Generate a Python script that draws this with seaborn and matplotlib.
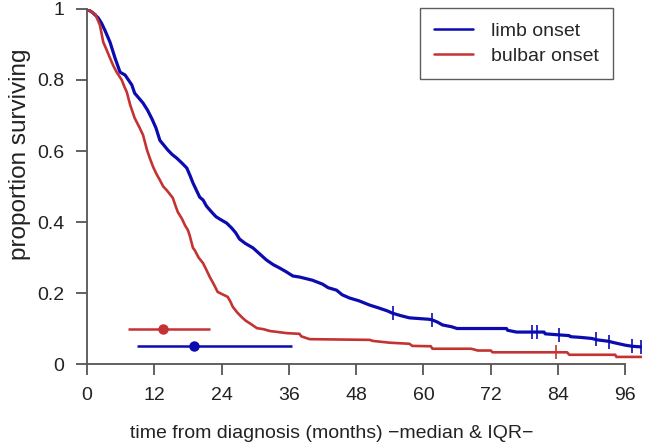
import numpy as np
import pandas as pd
import matplotlib
matplotlib.use('Agg')
import matplotlib.pyplot as plt
import seaborn as sns

# Kaplan-Meier curves (months, proportion surviving)
limb_time = [0, 1.0, 2.0, 2.6, 3.2, 4.1, 5.0, 5.9, 6.8, 7.4, 8.0, 8.5, 9.2, 10.0, 10.8,
             11.6, 12.3, 13.0, 14.4, 15.2, 16.0, 17.0, 17.8, 18.4, 18.9, 19.5, 20.1,
             20.7, 21.3, 21.9, 22.4, 23.0, 23.7, 24.9, 25.8, 26.5, 27.2, 28.2, 29.6,
             30.8, 32.0, 33.2, 34.4, 35.5, 36.7, 37.9, 40.2, 42.0, 43.0, 44.5, 45.5,
             46.8, 48.5, 50.4, 52.0, 53.5, 54.5, 56.0, 57.5, 61.0, 61.6, 62.5, 63.4,
             65.0, 66.0, 74.8, 75.0, 76.6, 81.5, 81.7, 84.2, 86.0, 86.2, 88.0, 90.0,
             91.0, 93.0, 94.0, 96.0, 97.2, 99.0]
limb_surv = [1.0, 0.99, 0.975, 0.96, 0.94, 0.907, 0.862, 0.822, 0.814, 0.80, 0.786, 0.763,
             0.75, 0.735, 0.715, 0.69, 0.665, 0.63, 0.603, 0.59, 0.58, 0.565, 0.552, 0.53,
             0.51, 0.49, 0.47, 0.462, 0.445, 0.434, 0.425, 0.415, 0.408, 0.397, 0.383,
             0.37, 0.352, 0.34, 0.327, 0.31, 0.293, 0.28, 0.27, 0.26, 0.248, 0.245, 0.236,
             0.225, 0.215, 0.208, 0.195, 0.186, 0.178, 0.166, 0.158, 0.15, 0.143, 0.136,
             0.13, 0.126, 0.124, 0.118, 0.11, 0.105, 0.10, 0.10, 0.095, 0.09, 0.09,
             0.085, 0.082, 0.08, 0.077, 0.075, 0.072, 0.068, 0.064, 0.06, 0.053, 0.05,
             0.048]

bulbar_time = [0, 1.5, 2.3, 2.9, 3.5, 4.1, 4.7, 5.3, 6.2, 6.7, 7.1, 7.7, 8.5, 9.4, 10.0,
               10.7, 11.2, 11.8, 12.4, 13.0, 13.6, 14.2, 15.3, 15.8, 16.2, 16.9, 17.5,
               18.0, 18.3, 18.9, 19.2, 19.9, 20.7, 21.3, 21.9, 22.6, 23.3, 25.1, 25.6,
               26.0, 26.8, 27.6, 28.3, 29.0, 30.3, 31.5, 32.6, 35.6, 37.9, 38.2, 39.7,
               50.4, 51.0, 54.0, 57.5, 58.0, 61.3, 61.6, 68.5, 69.7, 72.0, 72.3, 85.6,
               86.0, 94.2, 94.4, 99.0]
bulbar_surv = [1.0, 0.985, 0.955, 0.907, 0.885, 0.862, 0.84, 0.822, 0.80, 0.78, 0.766,
               0.73, 0.693, 0.665, 0.645, 0.603, 0.58, 0.555, 0.535, 0.518, 0.50, 0.49,
               0.468, 0.445, 0.428, 0.41, 0.39, 0.377, 0.363, 0.327, 0.321, 0.30, 0.284,
               0.265, 0.245, 0.225, 0.203, 0.189, 0.175, 0.161, 0.145, 0.132, 0.122,
               0.115, 0.101, 0.098, 0.093, 0.087, 0.085, 0.078, 0.07, 0.068, 0.065, 0.06,
               0.057, 0.051, 0.05, 0.043, 0.043, 0.038, 0.038, 0.033, 0.033, 0.026,
               0.026, 0.02, 0.02]

# censored observations
limb_cens_time = [54.5, 61.6, 79.4, 80.3, 84.2, 90.8, 93.1, 97.2, 98.8]
limb_cens_surv = [0.143, 0.124, 0.09, 0.09, 0.082, 0.07, 0.062, 0.05, 0.048]
bulbar_cens_time = [83.7]
bulbar_cens_surv = [0.033]

# median survival and IQR
groups = ['limb onset', 'bulbar onset']
median_months = [19.1, 13.6]
iqr_low = [8.9, 7.3]
iqr_high = [36.5, 21.9]
iqr_level = [0.05, 0.1]

colors = {'limb onset': '#0B0BB0', 'bulbar onset': '#C43232'}
widths = {'limb onset': 2.3, 'bulbar onset': 1.9}

df = pd.concat([
    pd.DataFrame({'time': limb_time, 'surv': limb_surv, 'group': 'limb onset'}),
    pd.DataFrame({'time': bulbar_time, 'surv': bulbar_surv, 'group': 'bulbar onset'}),
])
cens = pd.concat([
    pd.DataFrame({'time': limb_cens_time, 'surv': limb_cens_surv, 'group': 'limb onset'}),
    pd.DataFrame({'time': bulbar_cens_time, 'surv': bulbar_cens_surv, 'group': 'bulbar onset'}),
])

sns.set_style('ticks')
plt.rcParams['font.family'] = ['Liberation Sans', 'DejaVu Sans']

fig = plt.figure(figsize=(6.5, 4.43), dpi=100)
ax = fig.add_axes([0.1338, 0.1783, 0.8542, 0.8014])

for g in groups:
    sns.lineplot(data=df[df.group == g], x='time', y='surv', color=colors[g],
                 linewidth=widths[g], estimator=None, sort=False, ax=ax, label=g)
    sub = cens[cens.group == g]
    ax.scatter(sub.time, sub.surv, marker='|', s=110, color=colors[g], linewidths=1.2,
               zorder=3)

for g, m, lo, hi, lev in zip(groups, median_months, iqr_low, iqr_high, iqr_level):
    ax.plot([lo, hi], [lev, lev], color=colors[g], lw=1.8, solid_capstyle='butt')
    ax.plot([m], [lev], 'o', color=colors[g], ms=6.5)

ax.set_xlim(0, 99)
ax.set_ylim(0, 1)
ax.set_xticks(range(0, 97, 12))
ax.set_yticks([0, 0.2, 0.4, 0.6, 0.8, 1.0])
ax.set_yticklabels(['0', '0.2', '0.4', '0.6', '0.8', '1'])

for s in ['top', 'right']:
    ax.spines[s].set_visible(False)
ax.spines['left'].set_bounds(0, 1)
ax.spines['bottom'].set_bounds(0, 96)
for s in ['left', 'bottom']:
    ax.spines[s].set_color('#555555')
    ax.spines[s].set_linewidth(1.3)
ax.tick_params(length=8, width=1.3, color='#555555', labelsize=14, labelcolor='#222222',
               pad=8.5)

ax.set_xlabel('time from diagnosis (months) \u2212median & IQR\u2212', fontsize=14,
              color='#222222')
ax.xaxis.set_label_coords(0.441, -0.172)
ax.set_ylabel('proportion surviving', fontsize=17.5, color='#222222')
ax.yaxis.set_label_coords(-0.10, 0.59)

leg = ax.legend(loc='upper right', bbox_to_anchor=(0.948, 1.003), fontsize=14,
                frameon=True, fancybox=False, edgecolor='#333333', handlelength=2.0,
                handletextpad=0.9, labelspacing=0.35, borderpad=0.75, borderaxespad=0)
leg.get_frame().set_linewidth(1.0)
for line in leg.get_lines():
    line.set_linewidth(1.8)

fig.savefig('out.png', dpi=100)
